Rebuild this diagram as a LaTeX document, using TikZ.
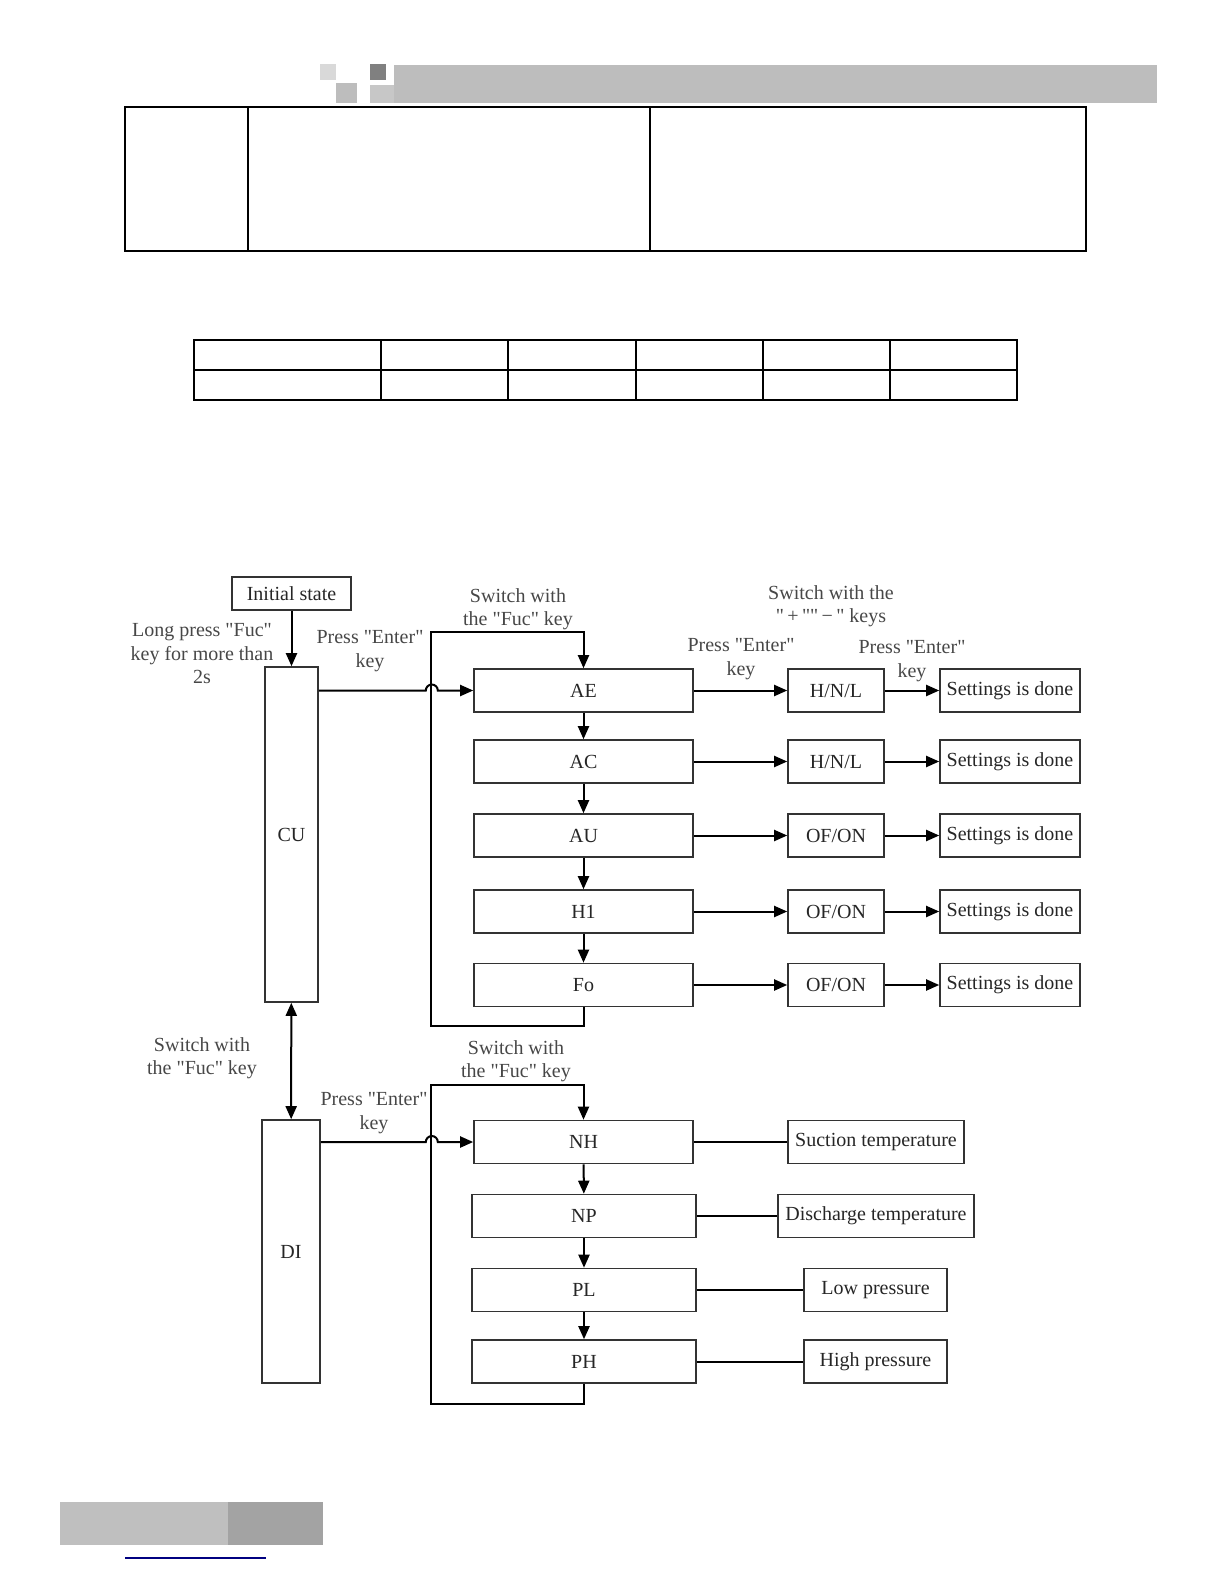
\documentclass[tikz,border=0pt]{standalone}
\usepackage{fontspec}
\setmainfont{Liberation Serif}
\usetikzlibrary{arrows.meta}
\newcommand{\qt}{\textquotedbl}

\begin{document}
\begin{tikzpicture}[x=0.5pt,y=0.5pt]
\tikzstyle{every node}+=[inner sep=0pt]
\tikzstyle{box}=[draw=black!80, line width=0.8pt, text=black!85, font=\fontsize{10}{11.75}\selectfont]
\tikzstyle{fbox}=[box, minimum width=109.5pt, minimum height=21.5pt]
\tikzstyle{vbox}=[box, minimum width=48pt, minimum height=21.5pt]
\tikzstyle{donebox}=[box, minimum width=70pt, minimum height=21.5pt]
\tikzstyle{lbl}=[align=center, text=black!72, font=\fontsize{10}{11.75}\selectfont]
\tikzstyle{arr}=[black, line width=1pt, -{Triangle[length=6.5pt,width=5.5pt]}]
\tikzstyle{dbl}=[black, line width=1pt, {Triangle[length=6.5pt,width=5.5pt]}-{Triangle[length=6.5pt,width=5.5pt]}]
\tikzstyle{link}=[black, line width=1pt]
\useasboundingbox (0,0) rectangle (1224,-1584);
% page header
\fill [black!15] (320,-64) rectangle (336,-80);
\fill [black!50] (370,-64) rectangle (386,-80);
\fill [black!26] (336,-83) rectangle (357,-103);
\fill [black!22] (370,-85) rectangle (394,-103);
\fill [black!26] (394,-65) rectangle (1157,-103);
% tables
\draw [black, line width=0.75pt] (125,-107) rectangle (1086,-251);
\draw [black, line width=0.75pt] (248,-107) -- (248,-251);
\draw [black, line width=0.75pt] (650,-107) -- (650,-251);
\draw [black, line width=0.75pt] (194,-340) rectangle (1017,-400);
\draw [black, line width=0.75pt] (194,-370) -- (1017,-370);
\foreach \x in {381,508,636,763,890}
  \draw [black, line width=0.75pt] (\x,-340) -- (\x,-400);
% footer
\fill [black!25] (60,-1502) rectangle (228,-1545);
\fill [black!36] (228,-1502) rectangle (323,-1545);
\draw [blue!50!black, line width=0.6pt] (125,-1558) -- (266,-1558);

% left column
\node [box, minimum width=59.5pt, minimum height=16.5pt] (init) at (291.5,-593.5) {Initial state};
\node [box, minimum width=26.5pt, minimum height=167.5pt] (CU) at (291.5,-834.5) {CU};
\node [box, minimum width=29pt, minimum height=131.5pt] (DI) at (291,-1251.5) {DI};
\node [lbl] (longpress) at (202,-654) {Long press \qt Fuc\qt\\key for more than\\2s};
\node [lbl] (fucCD) at (202,-1058) {Switch with\\the \qt Fuc\qt{} key};
\draw [arr] (init) -- (CU);
\draw [dbl] (CU) -- (DI);

% CU menu
\node [fbox] (AE) at (583.5,-690.5) {AE};
\node [fbox] (AC) at (583.5,-761.5) {AC};
\node [fbox] (AU) at (583.5,-835.5) {AU};
\node [fbox] (H1) at (583.5,-911.5) {H1};
\node [fbox] (Fo) at (583.5,-985) {Fo};
\node [vbox] (AEv) at (836,-690.5) {H/N/L};
\node [vbox] (ACv) at (836,-761.5) {H/N/L};
\node [vbox] (AUv) at (836,-835.5) {OF/ON};
\node [vbox] (H1v) at (836,-911.5) {OF/ON};
\node [vbox] (Fov) at (836,-985) {OF/ON};
\node [donebox] (AEd) at (1010,-690.5) {Settings is done};
\node [donebox] (ACd) at (1010,-761.5) {Settings is done};
\node [donebox] (AUd) at (1010,-835.5) {Settings is done};
\node [donebox] (H1d) at (1010,-911.5) {Settings is done};
\node [donebox] (Fod) at (1010,-985) {Settings is done};
\node [lbl] (enterCU) at (370,-651) {Press \qt Enter\qt\\key};
\node [lbl] (fucCU) at (518,-609) {Switch with\\the \qt Fuc\qt{} key};
\node [lbl] (enterV) at (741,-659) {Press \qt Enter\qt\\key};
\node [lbl] (plusminus) at (831,-606) {Switch with the\\\qt\,+\,\qt\qt\,−\,\qt{} keys};
\node [lbl] (enterD) at (912,-661) {Press \qt Enter\qt\\key};
\coordinate (ltopCU) at (431,-632);
\coordinate (lbotCU) at (431,-1026);
\draw [arr] (Fo.south) |- (lbotCU) -- (ltopCU) -| (AE.north);
\draw [arr] (CU.east |- AE.west) -- ++(107,0) arc (180:0:6) -- (AE.west);
\foreach \a/\b in {AE/AC,AC/AU,AU/H1,H1/Fo}
  \draw [arr] (\a) -- (\b);
\foreach \a in {AE,AC,AU,H1,Fo} {
  \draw [arr] (\a) -- (\a v);
  \draw [arr] (\a v) -- (\a d);
}

% DI menu
\node [fbox] (NH) at (583.5,-1142) {NH};
\node [fbox, minimum width=112pt] (NP) at (584,-1216) {NP};
\node [fbox, minimum width=112pt] (PL) at (584,-1290) {PL};
\node [fbox, minimum width=112pt] (PH) at (584,-1361.5) {PH};
\node [box, minimum width=88pt, minimum height=21.5pt] (NHv) at (876,-1142) {Suction temperature};
\node [box, minimum width=98pt, minimum height=21.5pt] (NPv) at (876,-1216) {Discharge temperature};
\node [box, minimum width=71.5pt, minimum height=21.5pt] (PLv) at (875.5,-1290) {Low pressure};
\node [box, minimum width=71.5pt, minimum height=21.5pt] (PHv) at (875.5,-1361.5) {High pressure};
\node [lbl] (enterDI) at (374,-1113) {Press \qt Enter\qt\\key};
\node [lbl] (fucDI) at (516,-1061) {Switch with\\the \qt Fuc\qt{} key};
\coordinate (ltopDI) at (431,-1085);
\coordinate (lbotDI) at (431,-1404);
\draw [arr] (PH.south) |- (lbotDI) -- (ltopDI) -| (NH.north);
\draw [arr] (DI.east |- NH.west) -- ++(105,0) arc (180:0:6) -- (NH.west);
\foreach \a/\b in {NH/NP,NP/PL,PL/PH}
  \draw [arr] (\a) -- (\b);
\foreach \a in {NH,NP,PL,PH}
  \draw [link] (\a) -- (\a v);
\end{tikzpicture}
\end{document}
